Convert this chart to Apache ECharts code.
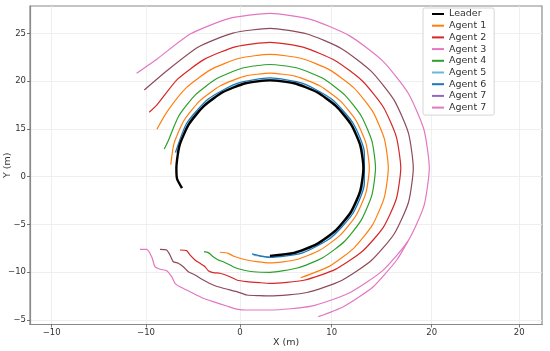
<!DOCTYPE html>
<html><head><meta charset="utf-8">
<script src="https://cdn.jsdelivr.net/npm/echarts@6/dist/echarts.min.js"></script>
<style>html,body{margin:0;padding:0;background:#fff}#c{width:550px;height:351px}</style>
</head><body><div id="c"></div>
<script>
// Tick positions (m) and their printed labels
const xTickValues = [-20.14, -10.05, 0, 9.8, 20.5, 29.86];
const xTickLabels = ['\u221210', '\u221210', '0', '10', '20', '20'];
const yTickValues = [-15, -10, -5, 0, 5, 10, 15];
const yTickLabels = ['\u22125', '\u221210', '\u22125', '0', '15', '20', '25'];

// Trajectories [x (m), y (m)]
const leader = [[-6.2,-1.2],[-6.73,-0.22],[-6.8,0.9],[-6.46,3.28],[-5.46,5.5],[-3.87,7.4],[-1.8,8.87],[0.61,9.79],[3.2,10.1],[5.79,9.79],[8.2,8.87],[10.27,7.4],[11.86,5.5],[12.86,3.28],[13.2,0.9],[12.86,-1.48],[11.86,-3.7],[10.27,-5.6],[8.2,-7.07],[5.79,-7.99],[3.2,-8.3]];
const agent1 = [[-2.14,-7.92],[-1.25,-8.03],[-0.72,-8.31],[0,-8.55],[0.72,-8.73],[1.79,-8.91],[3.21,-9.04],[5.96,-8.70],[8.52,-7.71],[10.72,-6.13],[12.41,-4.07],[13.47,-1.67],[13.83,0.91],[13.47,3.49],[12.41,5.89],[10.72,7.95],[8.52,9.53],[5.96,10.52],[3.21,10.86],[0.46,10.52],[-2.10,9.53],[-4.30,7.95],[-5.99,5.89],[-7.05,3.49],[-7.40,1.26]];
const agent1Outer = [[6.49,-10.59],[9.54,-9.40],[12.15,-7.51],[14.17,-5.05],[15.43,-2.17],[15.86,0.91],[15.43,3.99],[14.17,6.87],[12.15,9.33],[9.54,11.22],[6.49,12.41],[3.21,12.82],[-0.06,12.41],[-3.12,11.22],[-5.73,9.33],[-7.75,6.87],[-8.88,4.98]];
const agent2 = [[-6.42,-7.68],[-5.70,-7.75],[-5.35,-8.20],[-4.81,-8.73],[-4.28,-9.08],[-3.74,-9.43],[-3.39,-9.85],[-2.86,-10.06],[-2.14,-10.12],[-1.07,-10.48],[-0.35,-10.83],[0.72,-11.00],[2.14,-11.11],[3.21,-11.17],[6.83,-10.85],[10.20,-9.71],[13.09,-7.82],[15.32,-5.31],[16.71,-2.34],[17.19,0.91],[16.71,4.20],[15.32,7.31],[13.09,10.03],[10.20,12.16],[6.83,13.55],[3.21,14.08],[-0.41,13.63],[-3.78,12.32],[-6.67,10.22],[-8.90,7.50],[-9.70,6.75]];
const agent3 = [[-10.69,-7.61],[-9.98,-7.61],[-9.44,-8.38],[-9.09,-9.43],[-8.55,-9.70],[-7.84,-9.85],[-7.30,-10.48],[-6.95,-11.17],[-6.42,-11.53],[-5.35,-12.05],[-3.92,-12.74],[-2.86,-13.10],[-1.42,-13.55],[-0.35,-13.87],[0.72,-13.97],[3.21,-13.97],[7.62,-13.57],[11.73,-12.17],[15.25,-9.84],[17.96,-6.75],[19.66,-3.09],[20.24,0.91],[19.66,4.97],[17.96,8.80],[15.25,12.14],[11.73,14.76],[7.62,16.46],[3.21,17.12],[-1.20,16.57],[-5.31,14.95],[-8.83,12.37],[-11.05,10.84]];
const agent3End = [[8.37,-14.67],[11.05,-13.62],[14.25,-11.53],[16.76,-8.73],[17.96,-6.75]];
const agent4 = [[-3.85,-7.86],[-3.39,-7.96],[-2.86,-8.38],[-2.32,-8.73],[-1.79,-8.91],[-1.07,-9.25],[-0.35,-9.60],[0.35,-9.78],[1.42,-9.96],[3.21,-10.02],[6.13,-9.57],[8.85,-8.49],[11.19,-6.76],[12.98,-4.52],[14.11,-1.90],[14.49,0.91],[14.11,3.72],[12.98,6.34],[11.19,8.58],[8.85,10.31],[6.13,11.39],[3.21,11.76],[0.29,11.39],[-2.43,10.31],[-4.77,8.58],[-6.56,6.34],[-7.69,3.72],[-8.1,2.9]];
const agent5 = [[-6.75,2.52],[-5.55,5.55],[-3.29,8.02],[-0.25,9.64],[3.2,10.2],[6.65,9.64],[9.69,8.02],[11.95,5.55],[13.15,2.52],[13.15,-0.72],[11.95,-3.75],[9.69,-6.22],[6.65,-7.84],[3.2,-8.4],[1.45,-8.26]];
const agent6 = [[-6.9,2.54],[-5.68,5.63],[-3.39,8.14],[-0.31,9.78],[3.2,10.35],[6.71,9.78],[9.79,8.14],[12.08,5.63],[13.3,2.54],[13.3,-0.74],[12.08,-3.83],[9.79,-6.34],[6.71,-7.98],[3.2,-8.45],[2.14,-8.31],[1.28,-8.1]];
const agent7 = [[-8.55,-7.61],[-7.84,-7.68],[-7.49,-8.20],[-7.13,-8.91],[-6.60,-9.07],[-6.06,-9.43],[-5.53,-9.95],[-4.81,-10.30],[-3.92,-10.82],[-2.86,-11.35],[-1.79,-11.69],[-0.35,-12.05],[0.72,-12.40],[2.14,-12.47],[3.21,-12.50],[7.18,-12.14],[10.87,-10.88],[14.04,-8.79],[16.48,-6.00],[18.01,-2.70],[18.53,0.91],[18.01,4.57],[16.48,8.03],[14.04,11.04],[10.87,13.42],[7.18,14.96],[3.21,15.55],[-0.76,15.05],[-4.45,13.59],[-7.62,11.26],[-10.23,9.09]];

const legendNames = ['Leader','Agent 1','Agent 2','Agent 3','Agent 4','Agent 5','Agent 6','Agent 7','Agent 7 '];
const legendColors = ['#000000','#ff7f0e','#d62728','#e377c2','#2ca02c','#6cb6d8','#1f77b4','#9467bd','#e377c2'];

const chart = echarts.init(document.getElementById('c'), null, {renderer:'canvas'});
function ln(name, data, color, width, z) {
  return {name, type:'line', data, symbol:'none', showSymbol:false, smooth:0.2, z: z||2,
    lineStyle:{color, width}, itemStyle:{color}, emphasis:{disabled:true}};
}
const font = 'DejaVu Sans';
chart.setOption({
  animation:false,
  backgroundColor:'#ffffff',
  grid:{left:30, right:8, top:6, bottom:26.5, containLabel:false, outerBoundsMode:'none',
    show:true, borderColor:'#8a8a8a', borderWidth:1.2, backgroundColor:'#ffffff'},
  xAxis:{type:'value', min:-22.45, max:32.29,
    name:'X (m)', nameLocation:'middle', nameGap:13, nameMoveOverlap:false,
    nameTextStyle:{fontFamily:font, fontSize:9.5, color:'#333', verticalAlign:'top'},
    axisLine:{show:true, onZero:false, lineStyle:{color:'#8a8a8a', width:1.2}},
    axisTick:{show:true, length:3, customValues:xTickValues, lineStyle:{color:'#555', width:0.8}},
    axisLabel:{customValues:xTickValues, margin:4, fontFamily:font, fontSize:8.5, color:'#333',
      formatter:v=>{let i=0,b=1e9;xTickValues.forEach((t,k)=>{if(Math.abs(t-v)<b){b=Math.abs(t-v);i=k;}});return xTickLabels[i];}},
    splitLine:{show:true, lineStyle:{color:'#ebebeb', width:0.8}}},
  yAxis:{type:'value', min:-15.49, max:17.89,
    name:'Y (m)', nameLocation:'middle', nameGap:17, nameRotate:90, nameMoveOverlap:false,
    nameTextStyle:{fontFamily:font, fontSize:9.5, color:'#333'},
    axisLine:{show:true, onZero:false, lineStyle:{color:'#8a8a8a', width:1.2}},
    axisTick:{show:true, length:3, customValues:yTickValues, lineStyle:{color:'#555', width:0.8}},
    axisLabel:{customValues:yTickValues, margin:4, fontFamily:font, fontSize:8.5, color:'#333',
      formatter:v=>{let i=0,b=1e9;yTickValues.forEach((t,k)=>{if(Math.abs(t-v)<b){b=Math.abs(t-v);i=k;}});return yTickLabels[i];}},
    splitLine:{show:true, lineStyle:{color:'#ebebeb', width:0.8}}},
  legend:{orient:'vertical', left:423, top:8, itemWidth:12, itemHeight:2, itemGap:0.7, icon:'rect',
    padding:[0.5,5,2,9], backgroundColor:'#ffffff', borderColor:'#cccccc', borderWidth:0.8, borderRadius:2,
    textStyle:{fontFamily:font, fontSize:9.5, color:'#333', lineHeight:11},
    data:legendNames.map((n,i)=>({name:n, itemStyle:{color:legendColors[i]}}))},
  series:[
    ln('Agent 3', agent3, '#e377c2', 1.2),
    ln('Agent 7 ', agent3End, '#e377c2', 1.2),
    ln('Agent 7', agent7, '#8c4b5b', 1.2),
    ln('Agent 2', agent2, '#d62728', 1.2),
    ln('Agent 1', agent1Outer, '#ff7f0e', 1.2),
    ln('Agent 4', agent4, '#2ca02c', 1.2),
    ln('Agent 1', agent1, '#ff7f0e', 1.2),
    ln('Agent 5', agent5, '#6cb6d8', 1.2),
    ln('Agent 6', agent6, '#1f77b4', 1.3),
    ln('Leader', leader, '#000000', 2.4, 3)
  ]
});
</script></body></html>
